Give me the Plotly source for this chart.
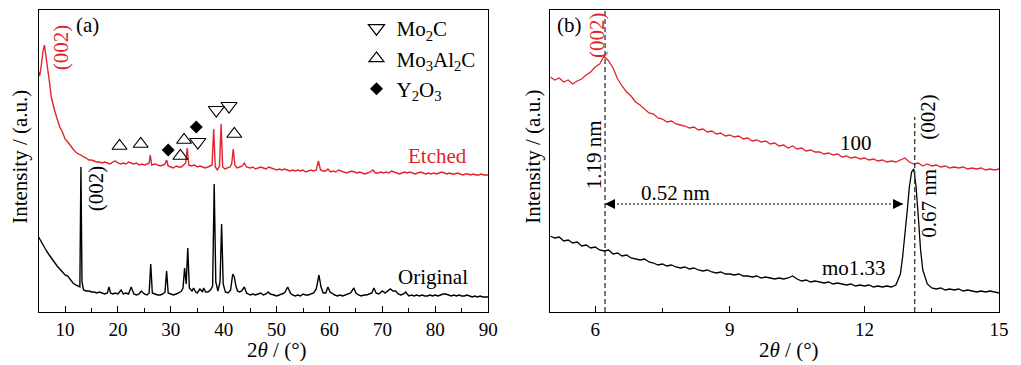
import plotly.graph_objects as go

# ---------------- Panel (a): wide-angle XRD, 2theta in degrees, intensity in a.u.
orig_a_x = [5, 5.5, 6, 6.5, 7, 7.5, 8, 8.5, 9, 9.5,
            10, 10.5, 11, 11.5, 12, 12.5, 12.8, 13.0, 13.2, 13.5,
            14, 14.5, 15, 15.5, 16, 16.5, 17, 17.5, 18, 18.3,
            18.6, 19, 19.5, 20, 20.6, 21, 21.5, 22, 22.5, 23,
            23.5, 24, 24.4, 25, 25.5, 25.9, 26.2, 26.5, 27, 27.5,
            28, 28.5, 28.9, 29.2, 29.5, 30, 30.5, 31, 31.5, 32,
            32.3, 32.6, 32.9, 33.2, 33.5, 34, 34.3, 34.7, 35, 35.5,
            36, 36.2, 36.6, 37, 37.5, 37.9, 38.2, 38.5, 38.9, 39.3,
            39.6, 39.9, 40.3, 40.8, 41.3, 41.7, 42.0, 42.3, 42.6, 43,
            43.4, 43.9, 44.3, 44.7, 45, 45.5, 46, 46.5, 47, 47.5,
            48, 48.4, 48.8, 49.5, 50, 50.5, 51, 51.5, 52.1, 52.6,
            53, 53.5, 54, 54.5, 55, 55.5, 56, 56.5, 57, 57.5,
            58.0, 58.4, 58.8, 59.3, 59.7, 60.1, 60.6, 61, 61.5, 62,
            62.5, 63, 63.5, 64, 64.6, 65, 65.5, 66, 66.5, 67,
            67.5, 68, 68.4, 68.8, 69.3, 70, 70.5, 71, 71.5, 72,
            72.5, 73, 73.5, 74, 74.4, 75, 75.5, 76, 76.5, 77,
            77.5, 78, 78.5, 79, 79.5, 80, 80.5, 81, 81.5, 82,
            82.5, 83, 83.5, 84, 84.5, 85, 85.5, 86, 86.5, 87,
            87.5, 88, 88.5, 89, 89.5, 90]
orig_a_y = [75, 70, 66, 61, 57, 53, 49, 46, 43, 40,
            37, 36, 32, 29, 27, 26, 25, 145, 30, 22,
            21, 21, 20, 20, 19, 20, 19, 18, 19, 25,
            19, 18, 19, 18, 22, 18, 19, 18, 25, 18,
            17, 18, 21, 18, 17, 19, 48, 19, 18, 17,
            17, 18, 20, 41, 19, 18, 17, 18, 19, 21,
            24, 44, 28, 64, 24, 21, 24, 20, 19, 23,
            20, 24, 20, 20, 22, 26, 128, 30, 21, 30,
            88, 28, 20, 19, 22, 38, 35, 26, 21, 20,
            21, 25, 19, 18, 17, 18, 17, 18, 19, 17,
            18, 20, 18, 17, 16, 17, 18, 19, 25, 19,
            17, 16, 17, 16, 18, 17, 17, 18, 19, 23,
            37, 25, 19, 19, 25, 20, 18, 17, 16, 17,
            16, 17, 18, 19, 24, 19, 17, 16, 17, 17,
            18, 19, 24, 19, 18, 21, 19, 21, 23, 21,
            21, 18, 17, 18, 20, 16, 17, 16, 17, 16,
            17, 16, 16, 17, 16, 17, 16, 17, 18, 18,
            17, 16, 17, 16, 17, 16, 16, 17, 16, 15,
            16, 15, 16, 15, 15, 15]

etch_a_x = [5, 5.2, 5.5, 5.8, 6.1, 6.4, 6.75, 7.05, 7.4, 7.7,
            8, 8.5, 9, 9.5, 10, 10.5, 11, 11.5, 12, 12.5,
            13, 13.5, 14, 14.5, 15, 15.5, 16, 16.5, 17, 17.5,
            18, 18.5, 19, 19.5, 20, 20.5, 21, 21.5, 22, 22.5,
            23, 23.5, 24, 24.5, 25, 25.5, 25.9, 26.1, 26.4, 27,
            27.5, 28, 28.5, 28.9, 29.2, 29.5, 30, 30.5, 31, 31.5,
            32, 32.5, 32.8, 33.1, 33.4, 33.8, 34.5, 35, 35.5, 36,
            36.5, 37, 37.5, 37.8, 38.1, 38.4, 38.8, 39.2, 39.5, 39.8,
            40.2, 40.7, 41.2, 41.5, 41.8, 42.1, 42.5, 43, 43.5, 43.9,
            44.3, 45, 45.5, 46, 46.5, 47, 47.5, 48, 48.5, 49,
            49.5, 50, 50.5, 51, 51.5, 52, 52.5, 53, 53.5, 54,
            54.5, 55, 55.5, 56, 56.5, 57, 57.5, 57.9, 58.3, 58.8,
            59.3, 59.7, 60.2, 60.7, 61.2, 61.7, 62.2, 62.7, 63.2, 63.7,
            64.2, 64.7, 65.2, 65.7, 66.2, 66.7, 67.2, 67.7, 68.2, 68.7,
            69.2, 69.7, 70.2, 70.7, 71.2, 71.7, 72.2, 72.7, 73.2, 73.7,
            74.2, 74.7, 75.2, 75.7, 76.2, 76.7, 77.2, 77.7, 78.2, 78.7,
            79.2, 79.7, 80.2, 80.7, 81.2, 81.7, 82.2, 82.7, 83.2, 83.7,
            84.2, 84.7, 85.2, 85.7, 86.2, 86.7, 87.2, 87.7, 88.2, 88.7,
            89.2, 89.6, 90]
etch_a_y = [240, 236, 246, 260, 267, 256, 245, 230, 215, 208,
            202, 193, 185, 180, 173, 170, 166, 163, 160, 158,
            157, 155, 154, 152, 152, 151, 150, 150, 149, 150,
            149, 148, 150, 151, 149, 148, 149, 148, 150, 149,
            148, 149, 147, 148, 147, 148, 149, 157, 147, 148,
            147, 146, 147, 148, 152, 146, 145, 144, 146, 145,
            145, 147, 149, 164, 147, 146, 147, 145, 146, 145,
            144, 145, 146, 147, 183, 145, 142, 146, 188, 145,
            143, 144, 145, 148, 163, 147, 144, 145, 146, 149,
            145, 144, 145, 143, 144, 145, 144, 143, 145, 144,
            143, 142, 143, 142, 143, 142, 141, 142, 141, 142,
            141, 142, 140, 141, 142, 141, 142, 151, 142, 141,
            141, 143, 140, 141, 140, 142, 141, 140, 139, 140,
            141, 140, 139, 140, 139, 138, 139, 140, 142, 139,
            139, 140, 139, 140, 139, 141, 140, 139, 138, 139,
            140, 139, 140, 139, 138, 139, 140, 139, 138, 139,
            138, 139, 138, 139, 140, 139, 138, 139, 138, 138,
            139, 138, 137, 138, 138, 137, 138, 137, 137, 138,
            137, 137, 137]

# phase identification markers (2theta, marker height)
mo2c_x = [35.1, 38.6, 41.0]
mo2c_y = [170, 202, 206]
mo3al2c_x = [20.3, 24.3, 31.8, 32.5, 42.0]
mo3al2c_y = [166, 168, 156, 172, 178]
y2o3_x = [29.5, 34.8]
y2o3_y = [162, 185]

# ---------------- Panel (b): low-angle region
etch_b_x = [5.0, 5.1, 5.2, 5.3, 5.4, 5.5, 5.6, 5.7, 5.8, 5.9,
            6.0, 6.1, 6.2, 6.3, 6.4, 6.5, 6.6, 6.7, 6.8, 6.9,
            7.0, 7.1, 7.2, 7.3, 7.4, 7.5, 7.6, 7.7, 7.8, 7.9,
            8.0, 8.1, 8.2, 8.3, 8.4, 8.5, 8.6, 8.7, 8.8, 8.9,
            9.0, 9.1, 9.2, 9.3, 9.4, 9.5, 9.6, 9.7, 9.8, 9.9,
            10.0, 10.1, 10.2, 10.3, 10.4, 10.5, 10.6, 10.7, 10.8, 10.9,
            11.0, 11.1, 11.2, 11.3, 11.4, 11.5, 11.6, 11.7, 11.8, 11.9,
            12.0, 12.1, 12.2, 12.3, 12.4, 12.5, 12.6, 12.7, 12.8, 12.9,
            13.0, 13.1, 13.2, 13.3, 13.4, 13.5, 13.6, 13.7, 13.8, 13.9,
            14.0, 14.1, 14.2, 14.3, 14.4, 14.5, 14.6, 14.7, 14.8, 14.9,
            15.0]
etch_b_y = [235, 232, 234, 230, 232, 228, 231, 233, 237, 240,
            245, 248, 256, 251, 244, 233, 226, 220, 216, 210,
            207, 203, 199, 198, 194, 193, 190, 191, 188, 187,
            186, 184, 185, 182, 183, 180, 181, 178, 179, 176,
            177, 175, 176, 173, 174, 171, 172, 170, 171, 168,
            169, 166, 167, 164, 166, 163, 164, 161, 162, 160,
            160, 158, 159, 157, 158, 155, 156, 154, 155, 153,
            154, 152, 153, 151, 152, 150, 151, 150, 152, 154,
            150, 148, 149, 146, 148, 146, 147, 145, 146, 144,
            145, 144, 145, 143, 144, 143, 144, 142, 143, 142,
            143]

orig_b_x = [5.0, 5.1, 5.2, 5.3, 5.4, 5.5, 5.6, 5.7, 5.8, 5.9,
            6.0, 6.1, 6.2, 6.3, 6.4, 6.5, 6.6, 6.7, 6.8, 6.9,
            7.0, 7.1, 7.2, 7.3, 7.4, 7.5, 7.6, 7.7, 7.8, 7.9,
            8.0, 8.1, 8.2, 8.3, 8.4, 8.5, 8.6, 8.7, 8.8, 8.9,
            9.0, 9.1, 9.2, 9.3, 9.4, 9.5, 9.6, 9.7, 9.8, 9.9,
            10.0, 10.1, 10.2, 10.3, 10.4, 10.5, 10.6, 10.7, 10.8, 10.9,
            11.0, 11.1, 11.2, 11.3, 11.4, 11.5, 11.6, 11.7, 11.8, 11.9,
            12.0, 12.1, 12.2, 12.3, 12.4, 12.5, 12.6, 12.7, 12.8, 12.85,
            12.9, 12.95, 13.0, 13.05, 13.1, 13.15, 13.2, 13.25, 13.3, 13.4,
            13.5, 13.6, 13.7, 13.8, 13.9, 14.0, 14.1, 14.2, 14.3, 14.4,
            14.5, 14.6, 14.7, 14.8, 14.9, 15.0]
orig_b_y = [76, 74, 75, 71, 72, 69, 70, 66, 67, 64,
            65, 62, 61, 62, 58, 59, 56, 57, 54, 53,
            52, 53, 50, 49, 47, 48, 46, 47, 45, 44,
            45, 43, 44, 42, 41, 42, 40, 39, 40, 38,
            38, 37, 38, 36, 36, 35, 36, 34, 35, 34,
            33, 34, 33, 34, 36, 33, 31, 32, 30, 31,
            30, 29, 30, 28, 29, 28, 27, 28, 26, 27,
            26, 27, 25, 26, 25, 26, 25, 27, 38, 55,
            75, 100, 125, 140, 143, 125, 95, 62, 42, 28,
            24, 23, 24, 22, 23, 22, 23, 21, 22, 21,
            20, 21, 20, 21, 20, 19]

# peak positions marked by dashed guide lines (2theta) and the spacing arrow
peak_etched_b = 6.22
peak_orig_b = 13.12
arrow_right_end = 12.86
arrow_level = 108

RED = "#e3232b"
FONT = "Liberation Serif"
TXT = 21

fig = go.Figure()

# panel (a) curves
fig.add_trace(go.Scatter(x=etch_a_x, y=etch_a_y, mode="lines", line=dict(color=RED, width=1.4),
                         showlegend=False, xaxis="x", yaxis="y"))
fig.add_trace(go.Scatter(x=orig_a_x, y=orig_a_y, mode="lines", line=dict(color="black", width=1.4),
                         showlegend=False, xaxis="x", yaxis="y"))
# phase markers (also used for legend)
fig.add_trace(go.Scatter(x=mo2c_x, y=mo2c_y, mode="markers", name="Mo<sub>2</sub>C",
                         marker=dict(symbol="triangle-down-open", size=14, color="black", line=dict(width=1.2)),
                         legendgroup="g1", xaxis="x", yaxis="y"))
fig.add_trace(go.Scatter(x=mo3al2c_x, y=mo3al2c_y, mode="markers", name="Mo<sub>3</sub>Al<sub>2</sub>C",
                         marker=dict(symbol="triangle-up-open", size=13, color="black", line=dict(width=1.2)),
                         legendgroup="g2", xaxis="x", yaxis="y"))
fig.add_trace(go.Scatter(x=y2o3_x, y=y2o3_y, mode="markers", name="Y<sub>2</sub>O<sub>3</sub>",
                         marker=dict(symbol="diamond", size=10, color="black"),
                         legendgroup="g3", xaxis="x", yaxis="y"))

# panel (b) curves
fig.add_trace(go.Scatter(x=etch_b_x, y=etch_b_y, mode="lines", line=dict(color=RED, width=1.3),
                         showlegend=False, xaxis="x2", yaxis="y2"))
fig.add_trace(go.Scatter(x=orig_b_x, y=orig_b_y, mode="lines", line=dict(color="black", width=1.3),
                         showlegend=False, xaxis="x2", yaxis="y2"))
# double-headed dotted arrow between the two (002) peaks
fig.add_trace(go.Scatter(x=[peak_etched_b, arrow_right_end], y=[arrow_level, arrow_level],
                         mode="lines+markers",
                         line=dict(color="black", width=1.1, dash="2px,2px"),
                         marker=dict(symbol=["arrow-left", "arrow-right"], size=10, color="black"),
                         showlegend=False, xaxis="x2", yaxis="y2"))

YR = [0, 302]
axis_common = dict(showline=True, linecolor="black", linewidth=1.2, mirror=True,
                   showgrid=False, zeroline=False)
x_common = dict(axis_common, ticks="inside", ticklen=6, tickwidth=1.1, tickcolor="black",
                tickfont=dict(family=FONT, size=19, color="black"))
fig.update_layout(
    width=1021, height=365,
    margin=dict(l=0, r=0, t=0, b=0),
    paper_bgcolor="white", plot_bgcolor="white",
    font=dict(family=FONT, size=TXT, color="black"),
    xaxis=dict(x_common, domain=[39/1021, 493/1021], range=[5, 90], dtick=10, tick0=0,
               minor=dict(dtick=5, tick0=0, ticks="inside", ticklen=4, tickcolor="black")),
    yaxis=dict(axis_common, domain=[53/365, 355/365], range=YR, showticklabels=False, ticks=""),
    xaxis2=dict(x_common, domain=[555.7/1021, 1009/1021], range=[5, 15], dtick=3, tick0=0,
                minor=dict(dtick=1.5, tick0=0, ticks="inside", ticklen=4, tickcolor="black"),
                anchor="y2"),
    yaxis2=dict(axis_common, domain=[53/365, 355/365], range=YR, showticklabels=False, ticks="",
                anchor="x2"),
    legend=dict(x=360/1021, y=1 - 8/365, xanchor="left", yanchor="top",
                font=dict(family=FONT, size=TXT, color="black"),
                bgcolor="rgba(0,0,0,0)", tracegroupgap=0),
)

# dashed guide lines in (b)
fig.add_shape(type="line", xref="x2", yref="y2", x0=peak_etched_b, x1=peak_etched_b, y0=0, y1=302,
              line=dict(color="#333333", width=1.3, dash="5px,3px"))
fig.add_shape(type="line", xref="x2", yref="y2", x0=peak_orig_b, x1=peak_orig_b, y0=0, y1=195,
              line=dict(color="#333333", width=1.3, dash="5px,3px"))

def ann(text, x, y, ref="", color="black", angle=0, xanchor="center", size=TXT):
    fig.add_annotation(text=text, x=x, y=y, xref="x" + ref, yref="y" + ref, showarrow=False,
                       textangle=angle, xanchor=xanchor, yanchor="middle",
                       font=dict(family=FONT, size=size, color=color))

# panel (a) labels
ann("(a)", 14.2, 287)
ann("(002)", 9.3, 265, color=RED, angle=-90)
ann("(002)", 15.9, 124, angle=-90)
ann("Etched", 86.4, 156, color=RED, xanchor="right")
ann("Original", 86.6, 35, xanchor="right")

# panel (b) labels
ann("(b)", 5.43, 287, ref="2")
ann("(002)", 6.04, 277, ref="2", color=RED, angle=-90)
ann("(002)", 13.41, 195, ref="2", angle=-90)
ann("1.19 nm", 5.98, 157, ref="2", angle=-90)
ann("0.67 nm", 13.43, 109, ref="2", angle=-90)
ann("0.52 nm", 7.79, 119, ref="2")
ann("100", 11.82, 169, ref="2")
ann("mo1.33", 11.76, 44, ref="2")

# axis titles
for xp in (280, 797):
    fig.add_annotation(text="2<i>θ</i> / (°)", x=xp/1021, y=1 - 350/365, xref="paper", yref="paper",
                       xanchor="center", yanchor="middle", showarrow=False,
                       font=dict(family=FONT, size=TXT, color="black"))
for xp in (20, 538):
    fig.add_annotation(text="Intensity / (a.u.)", x=xp/1021, y=1 - 157/365, xref="paper", yref="paper",
                       xanchor="center", yanchor="middle", showarrow=False, textangle=-90,
                       font=dict(family=FONT, size=TXT, color="black"))

fig.write_html("out.html")
